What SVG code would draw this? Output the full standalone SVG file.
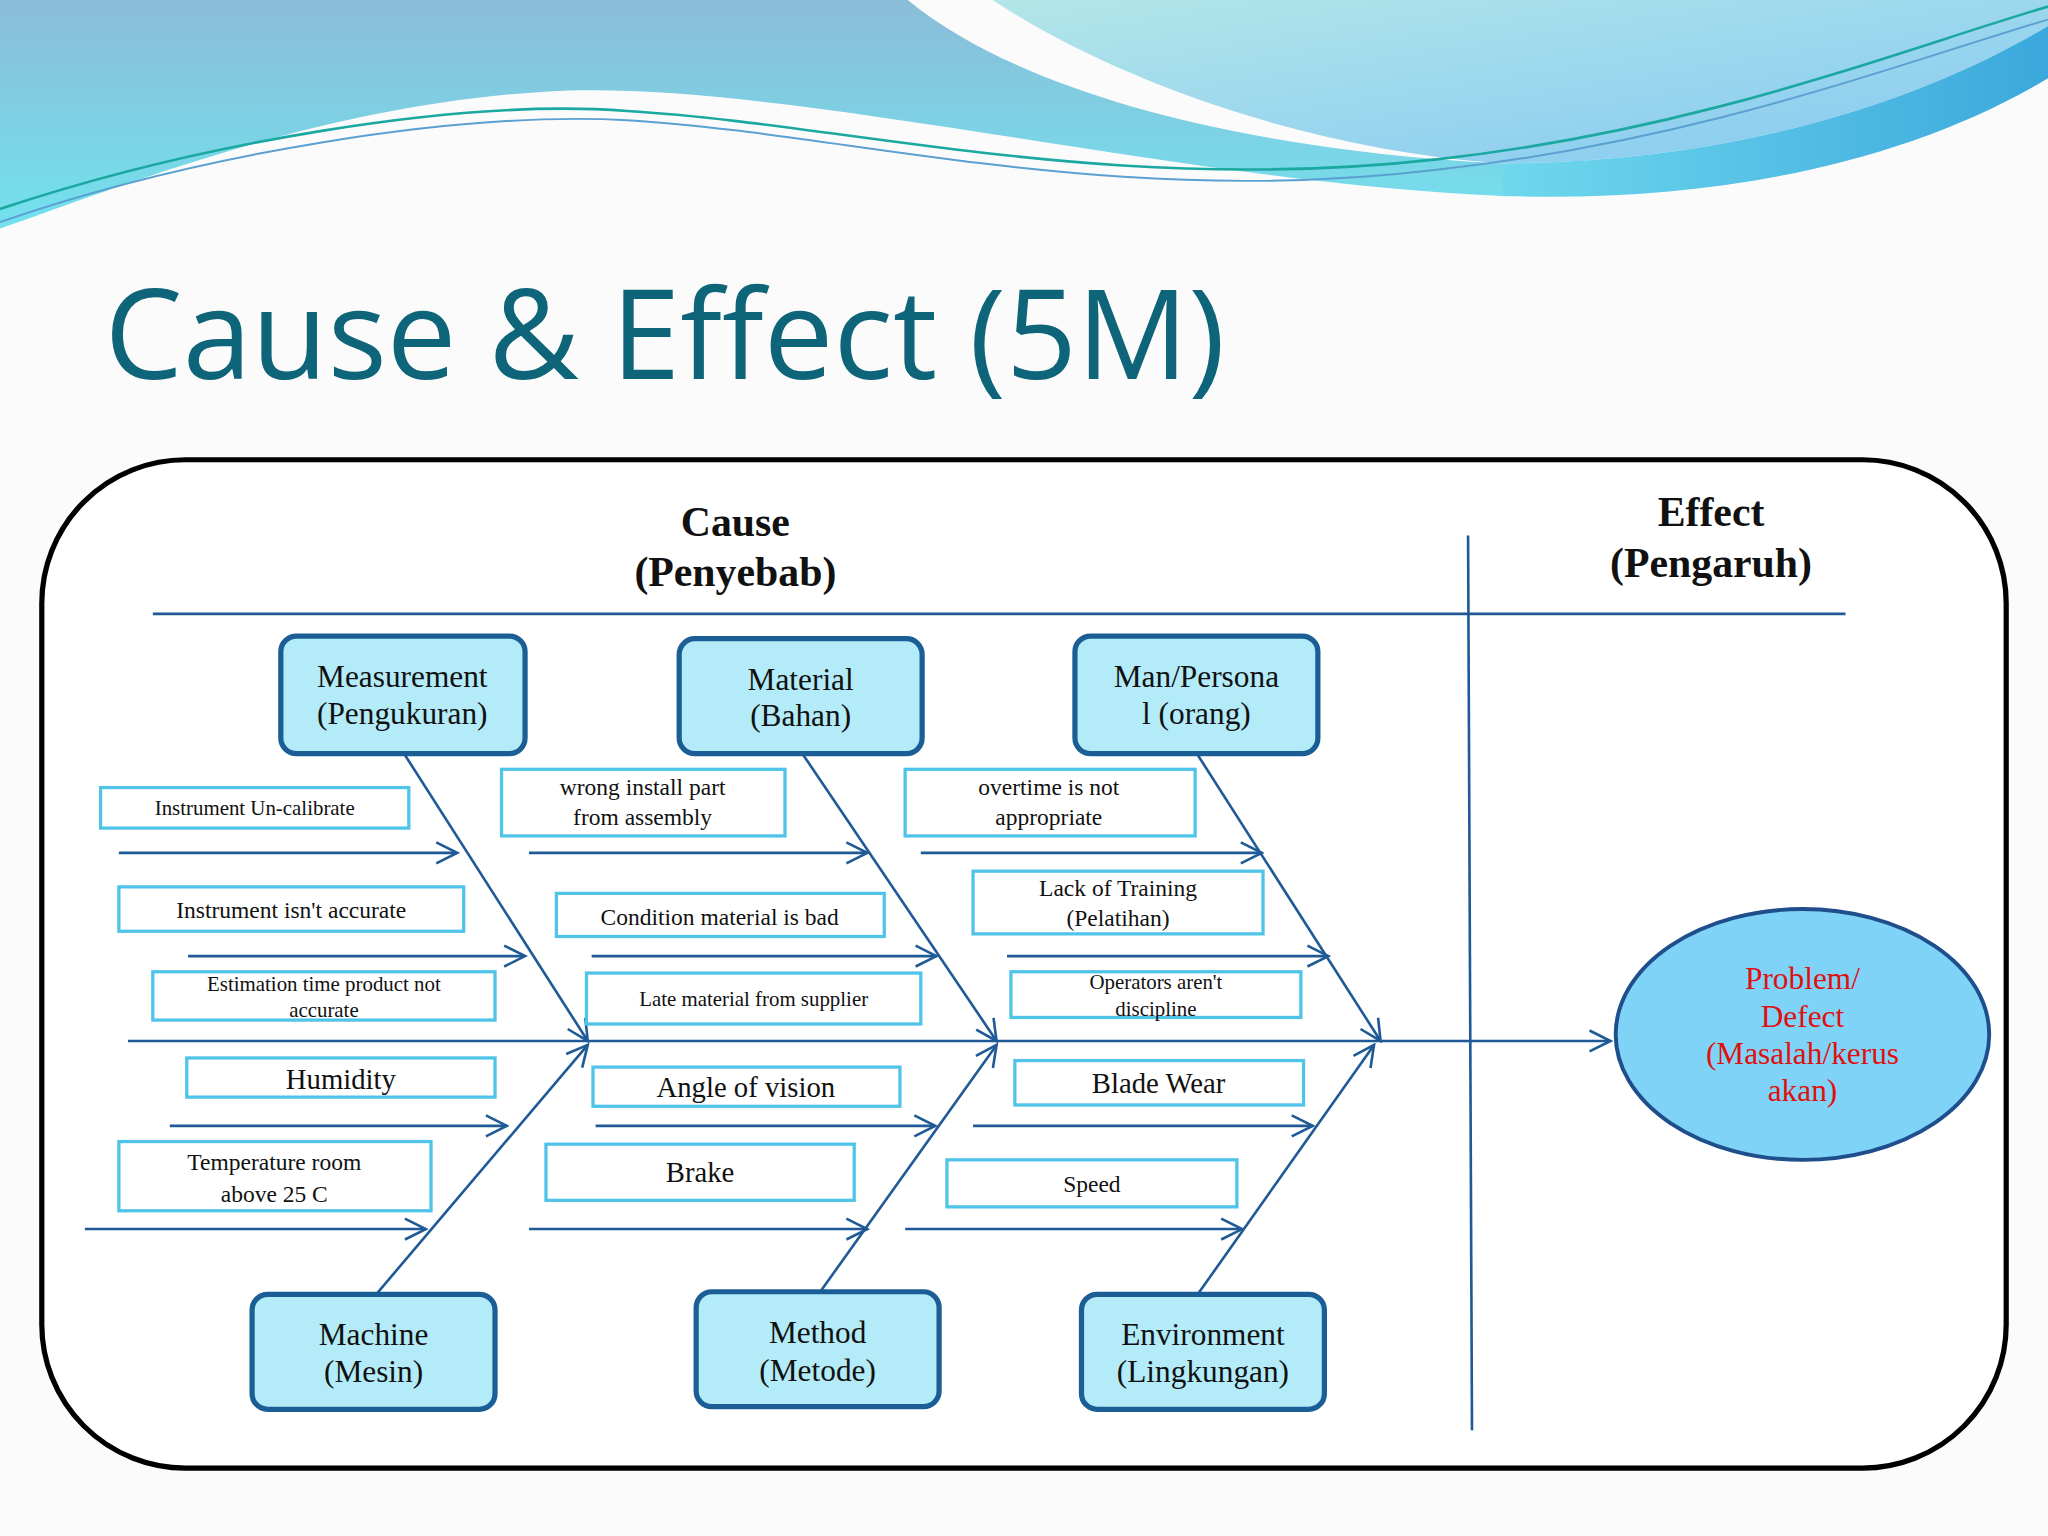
<svg xmlns="http://www.w3.org/2000/svg" width="2048" height="1536" viewBox="0 0 2048 1536">
<defs>
<linearGradient id="gl" x1="0" y1="0" x2="0" y2="1"><stop offset="0" stop-color="#8bbcd8"/><stop offset="1" stop-color="#72e2ee"/></linearGradient>
<linearGradient id="gr" x1="0" y1="0" x2="1" y2="1"><stop offset="0" stop-color="#b2e6e8"/><stop offset="1" stop-color="#86c8f2"/></linearGradient>
<linearGradient id="gb" x1="0" y1="0" x2="1" y2="0"><stop offset="0" stop-color="#6fd8ee"/><stop offset="1" stop-color="#3aa8dc"/></linearGradient>
<marker id="ah" viewBox="0 0 20 20" refX="18" refY="10" markerWidth="20" markerHeight="20" markerUnits="userSpaceOnUse" orient="auto"><path d="M2,2 L18,10 L2,18" fill="none" stroke="#1f5a96" stroke-width="2"/></marker>
<style>
.cat rect{fill:#b3ebf9;stroke:#1b5e96;stroke-width:4}
.cat text{font-family:"Liberation Serif","DejaVu Serif",serif;font-size:24px;fill:#111;text-anchor:middle}
.tb rect{fill:#fff;stroke:#4fc3e8;stroke-width:2.5}
.tb text{font-family:"Liberation Serif","DejaVu Serif",serif;fill:#111;text-anchor:middle}
.ln{stroke:#1f5a96;stroke-width:2;fill:none}
.hd{font-family:"Liberation Serif","DejaVu Serif",serif;font-size:32px;font-weight:bold;fill:#111;text-anchor:middle}
.pb{font-family:"Liberation Serif","DejaVu Serif",serif;font-size:24px;fill:#e01010;text-anchor:middle}
</style>
</defs>
<rect width="2048" height="1536" fill="#fbfbfb"/>
<g transform="scale(1.30612)">
<g id="background">
<path d="M0,0 H695 C780,70 950,115 1150,125 L1150,150 C900,140 600,60 420,70 C250,80 100,140 0,175 Z" fill="url(#gl)"/>
<path d="M760,0 H1568 V20 C1450,90 1300,125 1150,125 C1000,115 850,60 760,0 Z" fill="url(#gr)"/>
<path d="M1150,125 C1300,125 1450,90 1568,20 V60 C1450,130 1300,155 1150,150 Z" fill="url(#gb)"/>
<path d="M0,160 C150,110 350,75 480,85 C650,95 850,150 1100,122 C1300,100 1450,40 1568,5" fill="none" stroke="#1aa8a0" stroke-width="2"/>
<path d="M0,170 C150,118 350,85 480,92 C650,102 850,160 1100,130 C1300,108 1450,50 1568,15" fill="none" stroke="#5aa0d0" stroke-width="1.5"/>
</g>
<text x="80" y="290" font-family="Open Sans, Noto Sans, sans-serif" font-size="95" fill="#0e6478">Cause &amp; Effect (5M)</text>
<rect x="32" y="352" width="1504" height="772" rx="110" fill="#fff" stroke="#000" stroke-width="4"/>
<text class="hd" x="563" y="410">Cause</text>
<text class="hd" x="563" y="449">(Penyebab)</text>
<text class="hd" x="1310" y="403">Effect</text>
<text class="hd" x="1310" y="442">(Pengaruh)</text>
<g id="connectors">
<line class="ln" x1="117" y1="470" x2="1413" y2="470"/>
<line class="ln" x1="1124" y1="410" x2="1127" y2="1095"/>
<line class="ln" x1="98" y1="797" x2="1233" y2="797" marker-end="url(#ah)"/>
<line class="ln" x1="310" y1="578" x2="450" y2="797" marker-end="url(#ah)"/>
<line class="ln" x1="288" y1="991" x2="450" y2="800" marker-end="url(#ah)"/>
<line class="ln" x1="615" y1="578" x2="763" y2="797" marker-end="url(#ah)"/>
<line class="ln" x1="628" y1="989" x2="763" y2="800" marker-end="url(#ah)"/>
<line class="ln" x1="917" y1="578" x2="1057" y2="797" marker-end="url(#ah)"/>
<line class="ln" x1="917" y1="991" x2="1052" y2="800" marker-end="url(#ah)"/>
<line class="ln" x1="91" y1="653" x2="350" y2="653" marker-end="url(#ah)"/>
<line class="ln" x1="144" y1="732" x2="402" y2="732" marker-end="url(#ah)"/>
<line class="ln" x1="130" y1="862" x2="388" y2="862" marker-end="url(#ah)"/>
<line class="ln" x1="65" y1="941" x2="326" y2="941" marker-end="url(#ah)"/>
<line class="ln" x1="405" y1="653" x2="664" y2="653" marker-end="url(#ah)"/>
<line class="ln" x1="453" y1="732" x2="717" y2="732" marker-end="url(#ah)"/>
<line class="ln" x1="456" y1="862" x2="716" y2="862" marker-end="url(#ah)"/>
<line class="ln" x1="405" y1="941" x2="664" y2="941" marker-end="url(#ah)"/>
<line class="ln" x1="705" y1="653" x2="966" y2="653" marker-end="url(#ah)"/>
<line class="ln" x1="771" y1="732" x2="1017" y2="732" marker-end="url(#ah)"/>
<line class="ln" x1="745" y1="862" x2="1005" y2="862" marker-end="url(#ah)"/>
<line class="ln" x1="693" y1="941" x2="951" y2="941" marker-end="url(#ah)"/>
</g>
<g id="problem">
<ellipse cx="1380" cy="792" rx="143" ry="96" fill="#7fd3f7" stroke="#1f4e8c" stroke-width="3"/>
<text class="pb" x="1380" y="757">Problem/</text>
<text class="pb" x="1380" y="786">Defect</text>
<text class="pb" x="1380" y="815">(Masalah/kerus</text>
<text class="pb" x="1380" y="843">akan)</text>
</g>
<g id="measurement" class="cat"><rect x="215" y="487" width="187" height="90" rx="12"/><text x="308" y="526">Measurement</text><text x="308" y="554">(Pengukuran)</text></g>
<g id="material" class="cat"><rect x="520" y="489" width="186" height="88" rx="12"/><text x="613" y="528">Material</text><text x="613" y="556">(Bahan)</text></g>
<g id="man" class="cat"><rect x="823" y="487" width="186" height="90" rx="12"/><text x="916" y="526">Man/Persona</text><text x="916" y="554">l (orang)</text></g>
<g id="machine" class="cat"><rect x="193" y="991" width="186" height="88" rx="12"/><text x="286" y="1030">Machine</text><text x="286" y="1058">(Mesin)</text></g>
<g id="method" class="cat"><rect x="533" y="989" width="186" height="88" rx="12"/><text x="626" y="1028">Method</text><text x="626" y="1057">(Metode)</text></g>
<g id="environment" class="cat"><rect x="828" y="991" width="186" height="88" rx="12"/><text x="921" y="1030">Environment</text><text x="921" y="1058">(Lingkungan)</text></g>
<g id="t1" class="tb"><rect x="77" y="603" width="236" height="31"/><text x="195" y="624" font-size="16">Instrument Un-calibrate</text></g>
<g id="t2" class="tb"><rect x="91" y="679" width="264" height="34"/><text x="223" y="703" font-size="18">Instrument isn't accurate</text></g>
<g id="t3" class="tb"><rect x="117" y="744" width="262" height="37"/><text x="248" y="759" font-size="16">Estimation time product not</text><text x="248" y="779" font-size="16">accurate</text></g>
<g id="t4" class="tb"><rect x="143" y="810" width="236" height="30"/><text x="261" y="834" font-size="22">Humidity</text></g>
<g id="t5" class="tb"><rect x="91" y="874" width="239" height="53"/><text x="210" y="896" font-size="18">Temperature room</text><text x="210" y="920" font-size="18">above 25 C</text></g>
<g id="t6" class="tb"><rect x="384" y="589" width="217" height="51"/><text x="492" y="609" font-size="18">wrong install part</text><text x="492" y="632" font-size="18">from assembly</text></g>
<g id="t7" class="tb"><rect x="426" y="684" width="251" height="33"/><text x="551" y="708" font-size="18">Condition material is bad</text></g>
<g id="t8" class="tb"><rect x="449" y="745" width="256" height="39"/><text x="577" y="770" font-size="16">Late material from supplier</text></g>
<g id="t9" class="tb"><rect x="454" y="817" width="235" height="30"/><text x="571" y="840" font-size="22">Angle of vision</text></g>
<g id="t10" class="tb"><rect x="418" y="876" width="236" height="43"/><text x="536" y="905" font-size="22">Brake</text></g>
<g id="t11" class="tb"><rect x="693" y="589" width="222" height="51"/><text x="803" y="609" font-size="18">overtime is not</text><text x="803" y="632" font-size="18">appropriate</text></g>
<g id="t12" class="tb"><rect x="745" y="667" width="222" height="48"/><text x="856" y="686" font-size="18">Lack of Training</text><text x="856" y="709" font-size="18">(Pelatihan)</text></g>
<g id="t13" class="tb"><rect x="774" y="744" width="222" height="35"/><text x="885" y="757" font-size="16">Operators aren't</text><text x="885" y="778" font-size="16">discipline</text></g>
<g id="t14" class="tb"><rect x="777" y="812" width="221" height="34"/><text x="887" y="837" font-size="22">Blade Wear</text></g>
<g id="t15" class="tb"><rect x="725" y="888" width="222" height="36"/><text x="836" y="913" font-size="18">Speed</text></g>
</g>
</svg>
